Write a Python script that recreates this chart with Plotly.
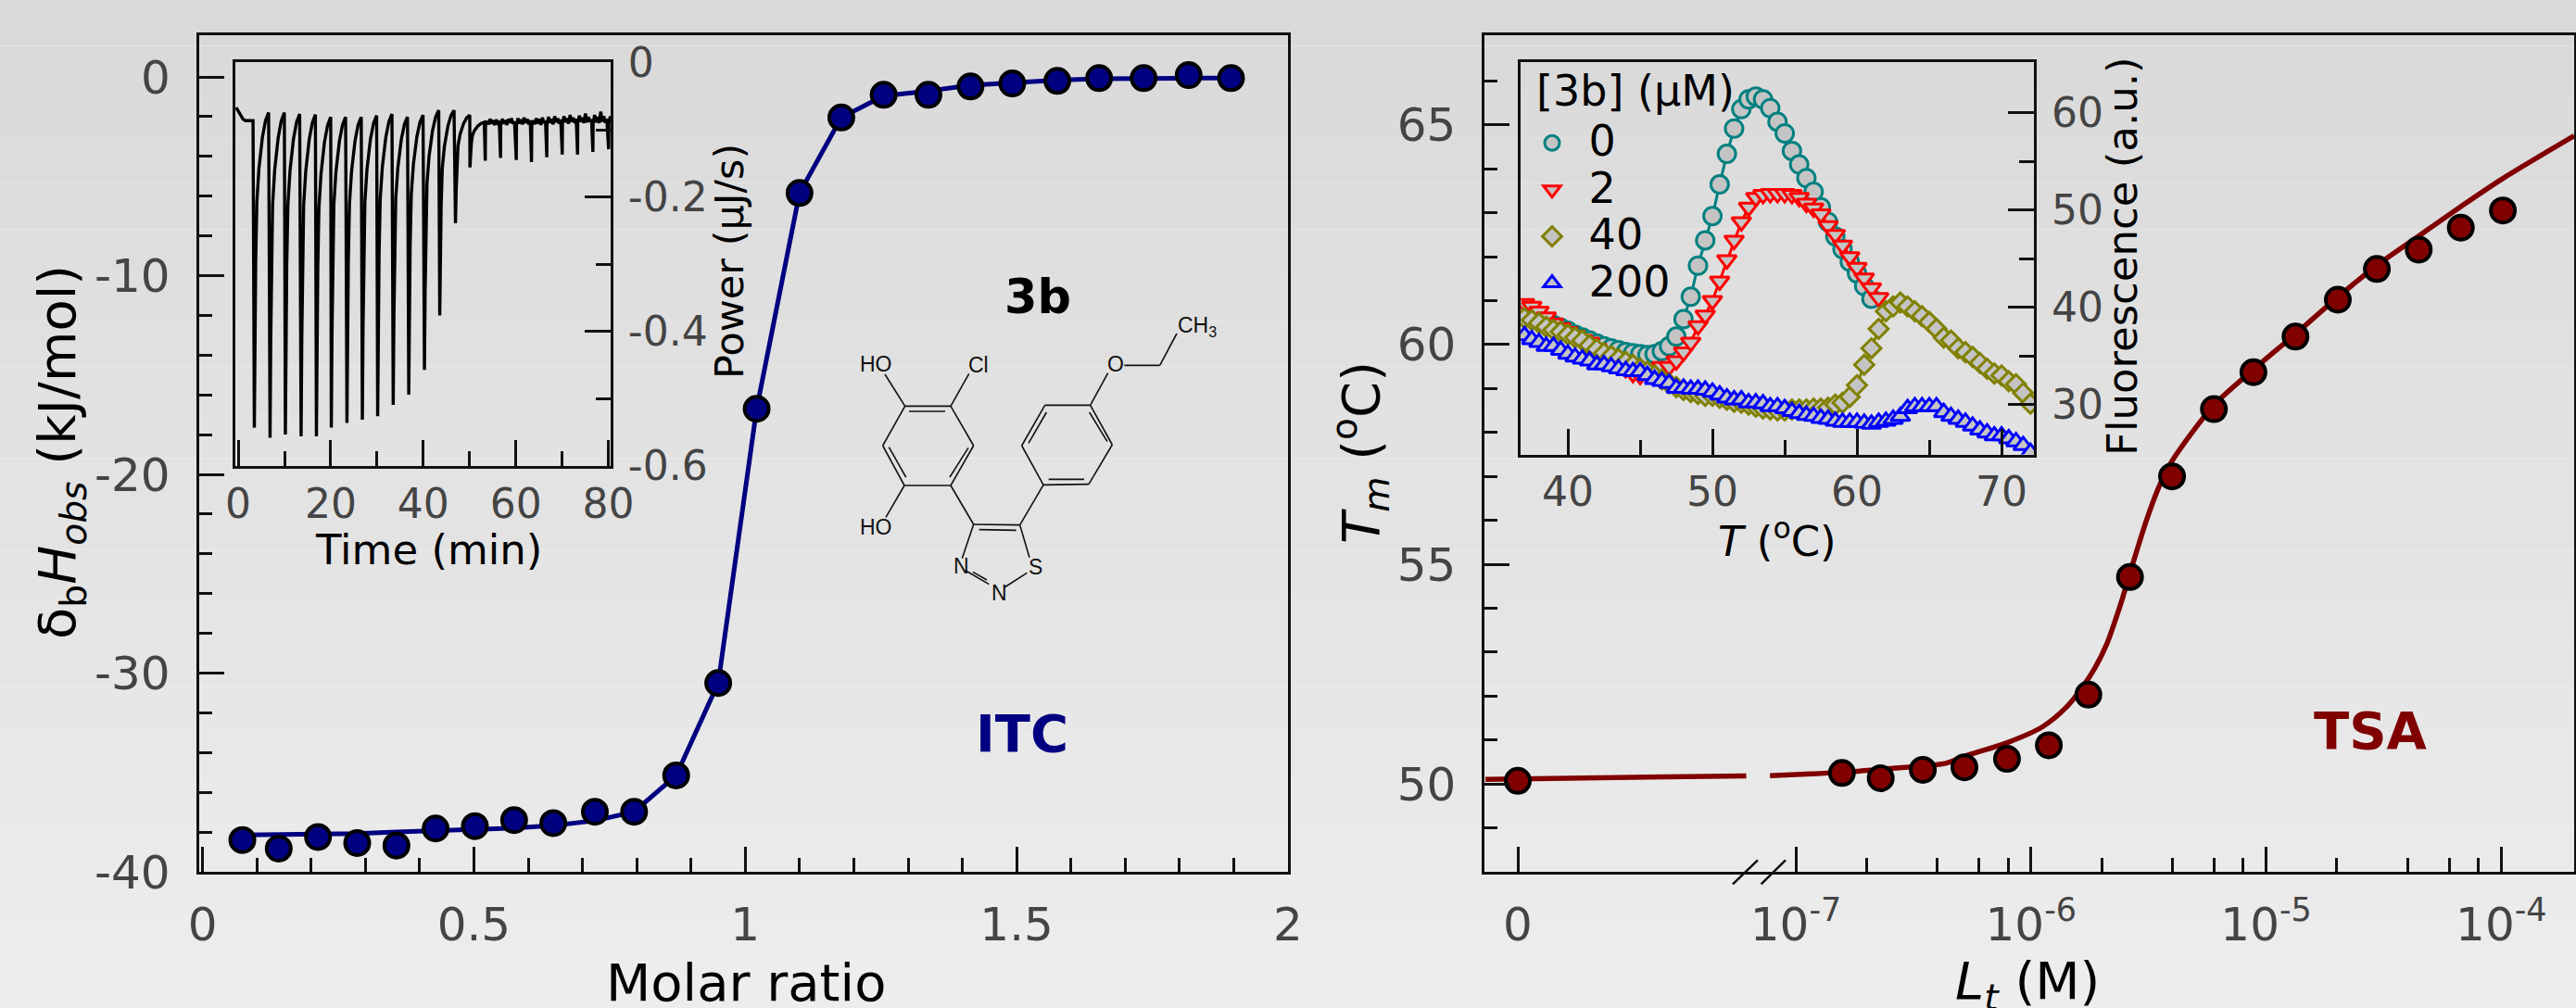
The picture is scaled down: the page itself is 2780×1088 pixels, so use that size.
import plotly.graph_objects as go

W, H = 2780, 1088

# ---------- ITC main panel ----------
MOLAR_RATIO = [0.0734, 0.1404, 0.2128, 0.285, 0.3573, 0.4295, 0.5018, 0.5741, 0.6463, 0.7229, 0.7952, 0.8727, 0.9502,
               1.021, 1.100, 1.177, 1.255, 1.3375, 1.415, 1.492, 1.575, 1.652, 1.734, 1.817, 1.895]
ITC_HEAT = [-38.4, -38.83, -38.25, -38.55, -38.68, -37.82, -37.7, -37.4, -37.55, -36.98, -36.98, -35.15, -30.5,
            -16.7, -5.84, -2.04, -0.9, -0.9, -0.48, -0.33, -0.2, -0.06, -0.06, 0.09, -0.06]
ITC_FIT = [-38.15, -38.13, -38.12, -38.08, -38.0, -37.95, -37.88, -37.8, -37.67, -37.43, -36.98, -35.15, -30.5,
           -16.7, -5.84, -2.04, -0.95, -0.71, -0.42, -0.27, -0.16, -0.09, -0.06, -0.06, -0.06]

# ---------- ITC thermogram inset ----------
START_T = [-0.44, 0.0, 0.56, 1.0, 1.56, 2.4, 3.2]
START_P = [-0.067, -0.072, -0.0786, -0.084, -0.0865, -0.087, -0.0865]
PEAK_T = [3.48, 6.88, 10.19, 13.59, 16.9, 20.12, 23.5, 26.83, 30.14, 33.5, 36.86, 40.25, 43.56, 46.96, 50.09,
          53.4, 56.7, 60.1, 63.4, 66.7, 70.04, 73.35, 76.66, 80.06]
PEAK_P = [-0.543, -0.558, -0.553, -0.556, -0.556, -0.543, -0.536, -0.531, -0.526, -0.509, -0.494, -0.457, -0.376,
          -0.239, -0.156, -0.146, -0.142, -0.145, -0.148, -0.141, -0.137, -0.137, -0.133, -0.129]
PEAK_TOP = [-0.0745, -0.0745, -0.0767, -0.0775, -0.0811, -0.0811, -0.0811, -0.079, -0.0767, -0.0811, -0.0783,
            -0.0712, -0.0712, -0.0783, -0.089]
RECOVERY_DT = [0.15, 0.3, 0.55, 1.0, 1.75, 2.43, 3.09]
RECOVERY_FRAC = [0.7, 0.47, 0.283, 0.177, 0.078, 0.025, 0.0]
LATE_BASE = [
    [-0.094, -0.087, -0.092, -0.084, -0.091, -0.086, -0.093, -0.085, -0.090, -0.087],
    [-0.092, -0.084, -0.091, -0.086, -0.093, -0.084, -0.090, -0.083, -0.091, -0.088],
    [-0.093, -0.083, -0.091, -0.085, -0.092, -0.082, -0.090, -0.084, -0.092, -0.086],
    [-0.094, -0.086, -0.092, -0.083, -0.091, -0.084, -0.093, -0.082, -0.090, -0.087],
    [-0.091, -0.081, -0.090, -0.084, -0.092, -0.080, -0.089, -0.083, -0.091, -0.085],
    [-0.090, -0.080, -0.089, -0.083, -0.091, -0.078, -0.088, -0.082, -0.090, -0.084],
    [-0.090, -0.079, -0.088, -0.082, -0.090, -0.076, -0.089, -0.081, -0.088, -0.085],
    [-0.091, -0.078, -0.089, -0.081, -0.090, -0.073, -0.088, -0.080, -0.090, -0.084],
    [-0.090, -0.080],
]

# ---------- TSA main panel ----------
L_LOG10 = [-8.1825, -6.804, -6.639, -6.46, -6.283, -6.102, -5.924, -5.756, -5.579, -5.4, -5.222, -5.054, -4.875,
           -4.695, -4.529, -4.351, -4.172, -3.993]
TM = [50.07, 50.25, 50.13, 50.32, 50.38, 50.57, 50.88, 52.03, 54.71, 57.0, 58.53, 59.37, 60.18, 61.02, 61.72,
      62.16, 62.66, 63.05]
FIT_A_X = [-8.32, -7.211]
FIT_A_Y = [50.105, 50.183]
FIT_B_X = [-7.11, -6.933, -6.756, -6.578, -6.46, -6.361, -6.283, -6.101, -5.951, -5.849, -5.78, -5.729, -5.678,
           -5.645, -5.61, -5.579, -5.507, -5.456, -5.4, -5.222, -5.054, -4.875, -4.695, -4.529, -4.351, -4.172,
           -3.993, -3.69]
FIT_B_Y = [50.19, 50.23, 50.28, 50.36, 50.41, 50.47, 50.63, 50.94, 51.3, 51.75, 52.21, 52.63, 53.18,
           53.67, 54.24, 54.8, 56.03, 56.76, 57.35, 58.62, 59.43, 60.24, 61.08, 61.8, 62.47, 63.14, 63.78, 64.75]
TSA_X_TICKS = [-8.1825, -7, -6, -5, -4]
TSA_X_LABELS = ["0", "10<sup>-7</sup>", "10<sup>-6</sup>", "10<sup>-5</sup>", "10<sup>-4</sup>"]
TSA_X_MINOR = [-6.699, -6.398, -6.222, -6.097, -5.699, -5.398, -5.222, -5.097, -4.699, -4.398, -4.222, -4.097]

# ---------- fluorescence inset ----------
TEMP = [37.0, 37.5, 38.0, 38.5, 39.0, 39.5, 40.0, 40.5, 41.0, 41.5, 42.0, 42.5, 43.0, 43.5, 44.0, 44.5, 45.0, 45.5,
        46.0, 46.5, 47.0, 47.5, 48.0, 48.5, 49.0, 49.5, 50.0, 50.5, 51.0, 51.5, 52.0, 52.5, 53.0, 53.5, 54.0, 54.5,
        55.0, 55.5, 56.0, 56.5, 57.0, 57.5, 58.0, 58.5, 59.0, 59.5, 60.0, 60.5, 61.0, 61.5, 62.0, 62.5, 63.0, 63.5,
        64.0, 64.5, 65.0, 65.5, 66.0, 66.5, 67.0, 67.5, 68.0, 68.5, 69.0, 69.5, 70.0, 70.5, 71.0, 71.5, 72.0]
F_0 = [39.6, 39.3, 38.9, 38.5, 38.2, 37.9, 37.6, 37.2, 36.9, 36.6, 36.3, 36.0, 35.8, 35.6, 35.4, 35.3, 35.2, 35.1,
       35.2, 35.5, 36.0, 37.0, 38.8, 41.1, 44.3, 46.9, 49.4, 52.65, 55.8, 58.4, 60.4, 61.4, 61.7, 61.4, 60.5, 59.1,
       57.9, 56.1, 54.7, 53.3, 51.9, 50.3, 48.8, 47.3, 46.0, 44.7, 43.5, 42.2, 40.9]
F_2 = [40.4, 40.1, 39.6, 39.0, 38.4, 37.9, 37.5, 37.1, 36.7, 36.4, 35.8, 35.4, 34.9, 34.3, 33.7, 33.2, 33.0, 33.2,
       33.5, 33.9, 33.9, 34.5, 35.4, 36.4, 38.1, 39.2, 40.7, 42.7, 44.9, 46.9, 48.8, 50.3, 51.3, 51.6, 51.7, 51.7,
       51.7, 51.6, 51.3, 50.7, 50.2, 49.6, 48.4, 47.5, 46.4, 45.2, 44.1, 43.0, 42.0, 41.0]
F_40 = [38.9, 38.7, 38.4, 38.0, 37.7, 37.5, 37.2, 36.9, 36.6, 36.1, 35.7, 35.3, 35.0, 34.7, 34.4, 34.1, 33.7, 33.4,
        33.0, 32.6, 32.2, 31.8, 31.5, 31.3, 31.1, 30.9, 30.9, 30.7, 30.5, 30.3, 30.2, 30.0, 29.8, 29.6, 29.5, 29.4,
        29.4, 29.5, 29.5, 29.5, 29.6, 29.6, 29.7, 30.0, 30.2, 30.8, 32.0, 34.1, 35.8, 37.8, 39.6, 40.1, 40.5, 40.1,
        39.6, 39.1, 38.5, 37.8, 36.9, 36.6, 35.8, 35.4, 34.9, 34.3, 33.7, 33.2, 33.0, 32.4, 32.1, 31.2, 30.1]
F_200 = [37.1, 36.7, 36.4, 36.0, 36.0, 35.6, 35.2, 34.9, 34.7, 34.5, 34.1, 34.1, 33.9, 33.7, 33.5, 33.4, 33.4, 33.0,
         32.6, 32.4, 32.2, 31.7, 31.7, 31.6, 31.6, 31.5, 31.3, 31.0, 30.7, 30.5, 30.5, 30.2, 30.2, 30.1, 29.8, 29.8,
         29.6, 29.3, 29.1, 28.9, 28.8, 28.6, 28.5, 28.3, 28.2, 28.2, 28.2, 28.1, 28.0, 28.2, 28.3, 28.5, 28.8, 29.6,
         29.8, 29.8, 29.8, 29.8, 29.2, 28.8, 28.5, 28.2, 27.8, 27.4, 27.1, 26.8, 26.8, 26.5, 26.2, 25.8, 25.1]
LEGEND_TITLE = "[3b] (µM)"
SERIES_NAMES = ["0", "2", "40", "200"]
SERIES_COLORS = ["#008080", "#ff0000", "#808000", "#0000ff"]
SERIES_SYMBOLS = ["circle", "triangle-down", "diamond", "triangle-up"]
SERIES_SIZES = [19, 18, 16, 18]
FACE = "#c4c4c4"

# ---------- axis titles: text, centre x, centre y, size, angle ----------
AXIS_TITLES = [
    ("Molar ratio", 805, 1060, 56, 0),
    ("δ<sub>b</sub><i>H<sub>obs</sub></i> (kJ/mol)", 66, 488, 56, -90),
    ("<i>L<sub>t</sub></i> (M)", 2188, 1062, 56, 0),
    ("<i>T<sub>m</sub></i> (<sup>o</sup>C)", 1468, 489, 56, -90),
    ("Time (min)", 462.5, 593, 45, 0),
    ("Power (µJ/s)", 787, 282, 43, -90),
    ("<i>T</i> (<sup>o</sup>C)", 1917.5, 581.5, 45, 0),
    ("Fluorescence (a.u.)", 2290, 277, 45, -90),
]

# ---------- chemical structure (drawing units of a 3x crop) ----------
BONDS = [
    (290, 475, 438, 475), (303, 492, 420, 492), (438, 475, 512, 603), (512, 603, 438, 732), (495, 610, 435, 705),
    (288, 732, 438, 732), (288, 732, 218, 603), (238, 608, 293, 705), (218, 603, 290, 475),
    (290, 475, 225, 372), (438, 475, 497, 370), (288, 732, 228, 835), (438, 732, 512, 858),
    (512, 858, 662, 860), (530, 875, 650, 877), (512, 858, 475, 968), (487, 1008, 562, 1052), (510, 1012, 555, 1038),
    (662, 860, 693, 965), (612, 1062, 685, 1015), (662, 860, 738, 730),
    (738, 730, 885, 728), (755, 712, 870, 712), (885, 728, 961, 600), (961, 600, 890, 472), (945, 590, 887, 495),
    (890, 472, 743, 472), (743, 472, 668, 603), (690, 595, 748, 495), (668, 603, 738, 730),
    (890, 472, 947, 368), (1000, 343, 1115, 343), (1115, 343, 1170, 240),
]
ATOMS = [("HO", 197, 338), ("Cl", 527, 342), ("HO", 197, 868), ("N", 473, 993), ("N", 595, 1080), ("S", 713, 995),
         ("O", 973, 338), ("CH<sub>3</sub>", 1237, 218)]


def px(x):
    return x / W


def py(y):
    return 1 - y / H


def dx(x0, x1):
    return [px(x0), px(x1)]


def dy(y0, y1):
    return [py(y1), py(y0)]


LINE = "#111111"
TICKCOL = "#444444"
FONT = "DejaVu Sans"


def axis(rng, dom, vals, labels, minor, size, ticklen, minorlen, standoff, **kw):
    return dict(
        range=rng, domain=dom, tickmode="array", tickvals=vals, ticktext=labels,
        ticks="inside", ticklen=ticklen, tickwidth=3, tickcolor=LINE,
        minor=dict(tickmode="array", tickvals=minor, ticks="inside", ticklen=minorlen, tickwidth=3, tickcolor=LINE),
        showline=True, linewidth=3, linecolor=LINE, mirror=True, showgrid=False, zeroline=False,
        tickfont=dict(family=FONT, size=size, color=TICKCOL), ticklabelstandoff=standoff,
        automargin=False, **kw)


fig = go.Figure()

# main ITC
fig.add_trace(go.Scatter(x=MOLAR_RATIO, y=ITC_FIT, mode="lines", line=dict(color="#000080", width=5),
                         xaxis="x", yaxis="y", showlegend=False))
fig.add_trace(go.Scatter(x=MOLAR_RATIO, y=ITC_HEAT, mode="markers", xaxis="x", yaxis="y", showlegend=False,
                         marker=dict(color="#000080", size=26, line=dict(color="#000000", width=4))))

# main TSA
for fx, fy in ((FIT_A_X, FIT_A_Y), (FIT_B_X, FIT_B_Y)):
    fig.add_trace(go.Scatter(x=fx, y=fy, mode="lines", line=dict(color="#800000", width=5.5, shape="spline", smoothing=0.8),
                             xaxis="x2", yaxis="y2", showlegend=False))
fig.add_trace(go.Scatter(x=L_LOG10, y=TM, mode="markers", xaxis="x2", yaxis="y2", showlegend=False,
                         marker=dict(color="#800000", size=26, line=dict(color="#000000", width=4))))

# thermogram
therm_t = list(START_T)
therm_p = list(START_P)
for i, (pt, pp) in enumerate(zip(PEAK_T, PEAK_P)):
    therm_t.append(pt)
    therm_p.append(pp)
    if i < len(PEAK_TOP):
        for d, f in zip(RECOVERY_DT, RECOVERY_FRAC):
            therm_t.append(pt + d)
            therm_p.append(PEAK_TOP[i] + f * (pp - PEAK_TOP[i]))
    else:
        seg = LATE_BASE[i - len(PEAK_TOP)]
        for k, v in enumerate(seg):
            therm_t.append(pt + 0.05 + 0.33 * k)
            therm_p.append(v)
fig.add_trace(go.Scatter(x=therm_t, y=therm_p, mode="lines", line=dict(color="#000000", width=3.4),
                         xaxis="x3", yaxis="y3", showlegend=False))

# fluorescence inset
for name, vals, col, sym, sz in zip(SERIES_NAMES, (F_0, F_2, F_40, F_200), SERIES_COLORS, SERIES_SYMBOLS, SERIES_SIZES):
    t = TEMP[:len(vals)]
    fig.add_trace(go.Scatter(x=t, y=vals, mode="lines", line=dict(color=col, width=3), xaxis="x4", yaxis="y4",
                             showlegend=False, legendgroup=name))
    fig.add_trace(go.Scatter(x=t, y=vals, mode="markers", xaxis="x4", yaxis="y4", legendgroup=name,
                             name=f"<span style='font-size:46px'>&nbsp;{name}</span>",
                             marker=dict(symbol=sym, size=sz, color=FACE, line=dict(color=col, width=3))))

# background gradient, one band per grey level
shapes = []
N = 22
for i in range(N):
    g = 217 + round(i * 20 / (N - 1))
    shapes.append(dict(type="rect", xref="paper", yref="paper", x0=0, x1=1, y0=1 - (i + 1) / N, y1=1 - i / N,
                       fillcolor=f"rgb({g},{g},{g})", line=dict(width=0), layer="below"))

# axis-break slashes
for x0, x1 in ((1870, 1897), (1900.6, 1927)):
    shapes.append(dict(type="line", xref="paper", yref="paper", x0=px(x0), x1=px(x1), y0=py(954.3), y1=py(928.3),
                       line=dict(color=LINE, width=2.5)))

# structure
CX, CY, CS = 880, 280, 3


def sx(v):
    return px(CX + v / CS)


def sy(v):
    return py(CY + v / CS)


for a, b, c, d in BONDS:
    shapes.append(dict(type="line", xref="paper", yref="paper", x0=sx(a), y0=sy(b), x1=sx(c), y1=sy(d),
                       line=dict(color="#111111", width=1.6)))

ann = []
for text, a, b in ATOMS:
    ann.append(dict(text=text, x=sx(a), y=sy(b), xref="paper", yref="paper", showarrow=False, xanchor="center",
                    yanchor="middle", font=dict(family="Liberation Sans", size=23, color="#111111")))
for text, x, y, size, col in (("<b>3b</b>", 1120, 320, 51, "#000000"), ("<b>ITC</b>", 1103, 791, 56, "#000080"),
                              ("<b>TSA</b>", 2558, 788, 56, "#800000")):
    ann.append(dict(text=text, x=px(x), y=py(y), xref="paper", yref="paper", showarrow=False, xanchor="center",
                    yanchor="middle", font=dict(family=FONT, size=size, color=col)))
for text, x, y, size, angle in AXIS_TITLES:
    ann.append(dict(text=text, x=px(x), y=py(y), xref="paper", yref="paper", showarrow=False, xanchor="center",
                    yanchor="middle", textangle=angle, font=dict(family=FONT, size=size, color="#000000")))
ann.append(dict(text=LEGEND_TITLE, x=px(1656), y=py(98), xref="paper", yref="paper", showarrow=False, xanchor="left",
                yanchor="middle", font=dict(family=FONT, size=46, color="#000000")))

fig.update_layout(
    width=W, height=H, margin=dict(l=0, r=0, t=0, b=0), autosize=False,
    paper_bgcolor="rgba(0,0,0,0)", plot_bgcolor="rgba(0,0,0,0)",
    font=dict(family=FONT), shapes=shapes, annotations=ann, hovermode=False,
    legend=dict(x=px(1650), y=py(124), xanchor="left", yanchor="top", bgcolor="rgba(0,0,0,0)", borderwidth=0,
                font=dict(family=FONT, size=36.5, color="#000000"), itemwidth=40, tracegroupgap=0,
                itemclick=False, itemdoubleclick=False),
    xaxis=axis([-0.0066, 2.0], dx(214.7, 1390), [0, 0.5, 1, 1.5, 2], ["0", "0.5", "1", "1.5", "2"],
               [0.1, 0.2, 0.3, 0.4, 0.6, 0.7, 0.8, 0.9, 1.1, 1.2, 1.3, 1.4, 1.6, 1.7, 1.8, 1.9],
               50, 27, 15, 11, anchor="y"),
    yaxis=axis([-40, 2.1], dy(38, 941), [0, -10, -20, -30, -40], ["0", "-10", "-20", "-30", "-40"],
               [-2, -4, -6, -8, -12, -14, -16, -18, -22, -24, -26, -28, -32, -34, -36, -38],
               50, 27, 14, 18, anchor="x"),
    xaxis2=axis([-8.3228, -3.69], dx(1602.4, 2778), TSA_X_TICKS, TSA_X_LABELS, TSA_X_MINOR,
                50, 27, 15, 11, anchor="y2"),
    yaxis2=axis([48.0, 67.04], dy(38, 941), [50, 55, 60, 65], ["50", "55", "60", "65"],
                [48, 49, 51, 52, 53, 54, 56, 57, 58, 59, 61, 62, 63, 64, 66],
                50, 27, 14, 18, anchor="x2"),
    xaxis3=axis([-0.7, 80.5], dx(253.6, 659), [0, 20, 40, 60, 80], ["0", "20", "40", "60", "80"],
                [10, 30, 50, 70], 44, 28, 16, 0, anchor="y3"),
    yaxis3=axis([-0.6, 0.0], dy(67.4, 503), [0, -0.2, -0.4, -0.6], ["0", "-0.2", "-0.4", "-0.6"],
                [-0.1, -0.3, -0.5], 44, 28, 16, 7, anchor="x3", side="right"),
    xaxis4=axis([36.74, 72.26], dx(1641.2, 2195.3), [40, 50, 60, 70], ["40", "50", "60", "70"],
                [45, 55, 65], 44, 28, 16, 0, anchor="y4"),
    yaxis4=axis([24.88, 65.2], dy(67.4, 490.5), [30, 40, 50, 60], ["30", "40", "50", "60"],
                [35, 45, 55], 44, 28, 16, 7, anchor="x4", side="right"),
)

fig.write_html("out.html", config=dict(displayModeBar=False),
               post_script="document.body.style.margin='0';document.body.style.overflow='hidden';")
